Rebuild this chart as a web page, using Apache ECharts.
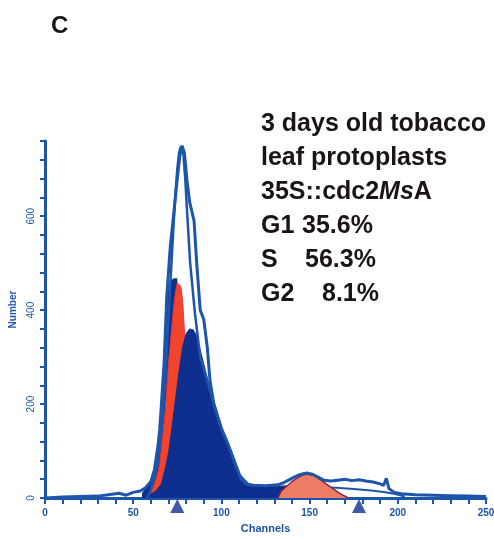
<!DOCTYPE html>
<html>
<head>
<meta charset="utf-8">
<script src="https://cdn.jsdelivr.net/npm/echarts@6/dist/echarts.min.js"></script>
<style>
html,body{margin:0;padding:0;background:#fff;}
#chart{width:494px;height:539px;}
</style>
</head>
<body>
<div id="chart"></div>
<script>
// ---- data (channel, count) ----
var outlineCh = [0,10,20,30,38,42,46,50,54,57,60,62,64,65,66,67.5,69,71,73,75,76.5,77.7,79,80.5,82,84.5,86,88,90,92,93.5,95.7,98,100,103,105,108,111,114,118,125,132,135,138,141,144,147,149,152,155,158,162,166,170,174,178,182,186,190,192,193.5,195,198,202,210,220,230,240,250];
var outlineN  = [0,2,3,4,8,10,6,12,15,22,35,60,110,145,200,287,428,534,606,680,730,750,735,676,630,590,500,400,380,321,251,200,172,148,122,102,72,42,30,27,26,28,32,38,44,49,52,53,50,44,38,36,38,40,37,39,36,34,30,27,42,20,12,9,7,6,5,4,3];
var fitCh = [58,60,62,64,66,68,70,72,73,74,75,76,77,77.7,78.5,79.5,80.6,82.3,85,88,91,95,100,105,110,115];
var fitN  = [0,18,45,77,140,240,382,520,590,650,700,735,748,750,730,680,606,500,393,300,262,210,148,102,50,30];
// dark band between the total outline and the G1 peak (left flank)
var bandCh = [55,57,60,62,64,65,66,67.5,69,71,73,74,75,76,76.5];
var bandN  = [10,22,35,60,110,145,200,287,428,462,468,468,468,468,0];
var sCh = [57,60,63,66,68,70,72,74,76,78,80,82,84,86,88,90,92,95,98,100,103,105,108,111,114,118,125,132,138,143,146];
var sN  = [0,8,15,30,60,95,150,210,270,320,350,360,358,345,315,285,255,210,170,145,120,100,70,40,28,25,24,25,26,22,0];
var sTailCh = [146,155,165,175,185,192,198,204];
var sTailN  = [24,23,22,19,16,13,9,3];
var g1Ch = [58,60,62,64,65,66,68,70,72,73,74,75,76,77,78,79,80,81,82,84,86,88,90];
var g1N  = [0,10,30,55,74,110,180,287,370,410,440,458,462,450,420,360,290,220,150,70,25,5,0];
var g2Ch = [132,134,137,140,143,146,149,152,155,158,161,164,167,170,172];
var g2N  = [0,15,25,35,43,49,51,48,42,34,26,18,10,4,0];
var markerCh = [75,178];
var xLabelStep = 50, yLabelStep = 200;
var infoLines = ['3 days old tobacco','leaf protoplasts'];
var phaseNames = ['G1','S','G2'];
var phasePct = ['35.6%','56.3%','8.1%'];

function zip(a,b){var r=[];for(var i=0;i<a.length;i++)r.push([a[i],b[i]]);return r;}

var blue='#1d55ab', navy='#0e2f8e';
var FONT='"Liberation Sans", Arial, sans-serif';
var chart = echarts.init(document.getElementById('chart'), null, {renderer:'canvas'});

var txt = function(x,y,t,extra){
  var s = {text:t, x:x, y:y, font:'bold 25px '+FONT, fill:'#1a1414', textVerticalAlign:'middle'};
  if(extra) for(var k in extra) s[k]=extra[k];
  return {type:'text', style:s, z:100};
};

var graphics = [
  txt(51,26,'C',{font:'bold 24px '+FONT}),
  txt(261,124,infoLines[0]),
  txt(261,158,infoLines[1]),
  {type:'text', z:100, style:{x:261,y:192,textVerticalAlign:'middle',
    text:'{a|35S::cdc2}{b|Ms}{a|A}',
    rich:{a:{font:'bold 25px '+FONT, fill:'#1a1414'}, b:{font:'italic bold 25px '+FONT, fill:'#1a1414'}}}},
  txt(261,226,phaseNames[0]), txt(302,226,phasePct[0]),
  txt(261,260,phaseNames[1]), txt(305,260,phasePct[1]),
  txt(261,294,phaseNames[2]), txt(322,294,phasePct[2])
];

var option = {
  backgroundColor:'#ffffff',
  animation:false,
  grid:{left:45,right:8,top:141,bottom:41,containLabel:false,outerBoundsMode:'none'},
  xAxis:{type:'value',min:0,max:250,interval:10,
    name:'Channels',nameLocation:'middle',nameGap:25,
    nameTextStyle:{color:blue,fontSize:11,fontWeight:'bold',fontFamily:FONT},
    axisLine:{show:true,onZero:false,lineStyle:{color:blue,width:3}},
    axisTick:{show:true,length:6,lineStyle:{color:blue,width:2}},
    axisLabel:{color:blue,fontSize:10,fontWeight:'bold',fontFamily:FONT,margin:10,showMaxLabel:true,
      formatter:function(v){return v%xLabelStep===0?String(v):'';}},
    splitLine:{show:false}},
  yAxis:{type:'value',min:0,max:760,interval:40,
    name:'Number',nameLocation:'middle',nameGap:27,nameRotate:90,
    nameTextStyle:{color:blue,fontSize:10,fontWeight:'bold',fontFamily:FONT,padding:[0,0,0,20]},
    axisLine:{show:true,lineStyle:{color:blue,width:3}},
    axisTick:{show:true,length:5,lineStyle:{color:blue,width:2}},
    axisLabel:{color:blue,fontSize:10,fontFamily:FONT,rotate:90,margin:9,
      formatter:function(v){return v%yLabelStep===0?String(v):'';}},
    splitLine:{show:false}},
  graphic:graphics,
  series:[
    {name:'band',type:'line',data:zip(bandCh,bandN),showSymbol:false,z:1,
      lineStyle:{width:0},areaStyle:{color:navy,opacity:1}},
    {name:'G1',type:'line',data:zip(g1Ch,g1N),showSymbol:false,z:2,
      lineStyle:{width:1,color:'#e8333a'},areaStyle:{color:'#f2442c',opacity:1}},
    {name:'S',type:'line',data:zip(sCh,sN),showSymbol:false,z:3,
      lineStyle:{width:1,color:navy},areaStyle:{color:navy,opacity:1}},
    {name:'Stail',type:'line',data:zip(sTailCh,sTailN),showSymbol:false,z:3,
      lineStyle:{width:2,color:blue}},
    {name:'G2',type:'line',data:zip(g2Ch,g2N),showSymbol:false,z:4,
      lineStyle:{width:1.5,color:'#8a2448'},areaStyle:{color:'#ec7d64',opacity:1}},
    {name:'fit',type:'line',data:zip(fitCh,fitN),showSymbol:false,z:5,
      lineStyle:{width:2.5,color:blue}},
    {name:'total',type:'line',data:zip(outlineCh,outlineN),showSymbol:false,z:6,
      lineStyle:{width:3,color:blue}},
    {name:'markers',type:'scatter',data:markerCh.map(function(c){return [c,0];}),
      symbol:'triangle',symbolSize:[14,14],symbolOffset:[0,8],clip:false,z:7,
      itemStyle:{color:navy}}
  ]
};
chart.setOption(option);
</script>
</body>
</html>
